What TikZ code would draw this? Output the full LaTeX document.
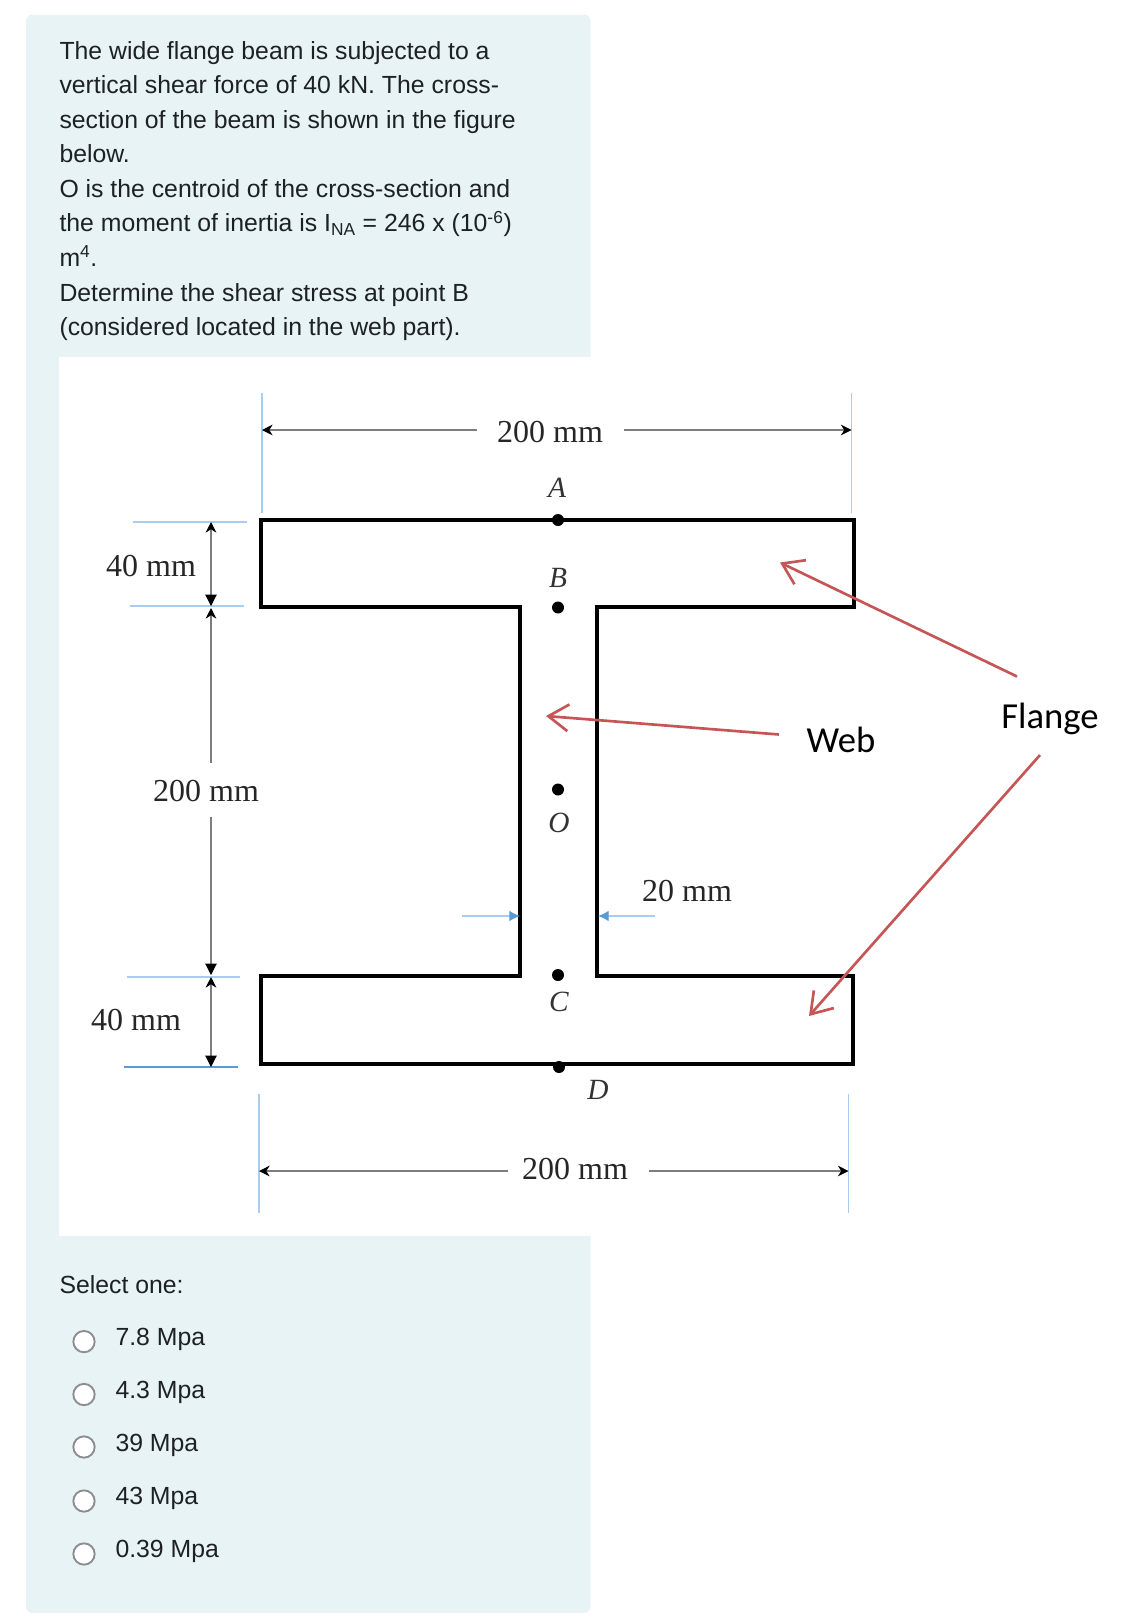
\documentclass[tikz,border=0pt]{standalone}
\usepackage{fontspec}
\usetikzlibrary{arrows.meta}
\setmainfont{Liberation Sans}
\newfontfamily\figfont{Liberation Serif}
\newfontfamily\calloutfont{Carlito}
\definecolor{panelbg}{RGB}{231,243,245}
\definecolor{bodytext}{RGB}{29,33,37}
\definecolor{ticklight}{RGB}{168,205,238}
\definecolor{tickblue}{RGB}{91,155,213}
\definecolor{calloutred}{RGB}{198,85,85}
\definecolor{dimgray}{RGB}{125,125,125}
\definecolor{radiogray}{RGB}{140,140,145}
\tikzset{every picture/.style={line width=0.75pt}}
\tikzset{
  notchtip/.tip={Stealth[length=8pt,width=8pt,black]},
  solidtip/.tip={Triangle[length=8.5pt,width=8.5pt,black]},
  bodyline/.style={anchor=base west,inner sep=0pt,text=bodytext,font=\fontsize{18.6}{22}\selectfont},
  radiobtn/.style={circle,draw=radiogray,fill=white,line width=1.4pt,minimum size=16pt,inner sep=0pt},
  beamline/.style={line width=2.3pt,line join=miter},
  dimlabel/.style={text=black!85,inner sep=0pt,font=\figfont\fontsize{24}{28}\selectfont},
  ptlabel/.style={text=black!80,inner sep=0pt,font=\figfont\itshape\fontsize{22}{26}\selectfont},
  ptdot/.style={circle,fill=black,minimum size=9pt,inner sep=0pt},
  dimline/.style={draw=dimgray,line width=0.8pt},
  webdim/.style={draw=ticklight,line width=0.9pt,-{Latex[length=8pt,width=8pt,tickblue]}},
  tick/.style={draw=ticklight,line width=0.8pt},
  callout/.style={draw=calloutred,line width=2pt,-{Straight Barb[length=15pt,width=20pt,line width=2pt]}},
  calloutlabel/.style={text=black,inner sep=0pt,font=\calloutfont\fontsize{27.5}{32}\selectfont}
}
\begin{document}
\begin{tikzpicture}[x=0.75pt,y=0.75pt,yscale=-1,xscale=1]
	\useasboundingbox (0,0) rectangle (1125,1624);

	% Panels
	\fill [panelbg, rounded corners=5pt]  (26,14.5) rectangle (590.5,1613);
	\fill [white]  (59,357) rectangle (590.5,1236);

	% Question text
	\node [bodyline] (line1) at (59,59) {The wide flange beam is subjected to a};
	\node [bodyline] (line2) at (59,93.5) {vertical shear force of 40 kN. The cross-};
	\node [bodyline] (line3) at (59,128) {section of the beam is shown in the figure};
	\node [bodyline] (line4) at (59,162.6) {below.};
	\node [bodyline] (line5) at (59,197) {O is the centroid of the cross-section and};
	\node [bodyline] (line6) at (59,231.7) {the moment of inertia is I\textsubscript{NA} = 246 x (10\textsuperscript{-6})};
	\node [bodyline] (line7) at (59,266.3) {m\textsuperscript{4}.};
	\node [bodyline] (line8) at (59,301) {Determine the shear stress at point B};
	\node [bodyline] (line9) at (59,335.5) {(considered located in the web part).};

	% Beam outline
	\draw [beamline] (261,520) -- (854,520) -- (854,607) -- (597,607) -- (597,976) -- (853,976) -- (853,1064) -- (261,1064) -- (261,976) -- (520,976) -- (520,607) -- (261,607) -- cycle;

	% Points
	\node [ptdot] (dotA) at (558,520) {};
	\node [ptdot] (dotB) at (558,607.5) {};
	\node [ptdot] (dotO) at (558,789.5) {};
	\node [ptdot] (dotC) at (558,975) {};
	\node [ptdot] (dotD) at (559,1067) {};
	\node [ptlabel] (labelA) at (557,488) {A};
	\node [ptlabel] (labelB) at (558,578) {B};
	\node [ptlabel] (labelO) at (559,823) {O};
	\node [ptlabel] (labelC) at (559,1002) {C};
	\node [ptlabel] (labelD) at (598,1090) {D};

	% Dimension end points
	\coordinate (topL) at (262,430);
	\coordinate (topgapL) at (476.5,430);
	\coordinate (topgapR) at (624,430);
	\coordinate (topR) at (851.5,430);
	\coordinate (botL) at (259,1171);
	\coordinate (botgapL) at (507.5,1171);
	\coordinate (botgapR) at (648.5,1171);
	\coordinate (botR) at (848.5,1171);
	\coordinate (flangeA) at (211,522);
	\coordinate (flangeB) at (211,606);
	\coordinate (flangeBlow) at (211,608);
	\coordinate (webgapT) at (211,762.5);
	\coordinate (webgapB) at (211,816.5);
	\coordinate (flangeC) at (211,977);
	\coordinate (flangeChigh) at (211,975);
	\coordinate (flangeD) at (211,1067);
	\coordinate (webL) at (520,916);
	\coordinate (webLfar) at (462,916);
	\coordinate (webR) at (598,916);
	\coordinate (webRfar) at (655,916);

	% Extension ticks
	\draw [tick] (262,393) -- (262,513);
	\draw [tick] (851.5,393) -- (851.5,513);
	\draw [tick] (259,1094) -- (259,1213);
	\draw [tick] (848.5,1094) -- (848.5,1213);
	\draw [tick] (133,522) -- (247,522);
	\draw [tick] (130,606) -- (243.5,606);
	\draw [tick] (127,977) -- (240,977);
	\draw [tick, draw=tickblue] (124,1067) -- (238,1067);

	% Dimension labels
	\node [dimlabel] (dimtop) at (550,432) {200 mm};
	\node [dimlabel] (dimbot) at (575,1169.5) {200 mm};
	\node [dimlabel] (dimweb) at (206,791.5) {200 mm};
	\node [dimlabel] (dimflangetop) at (151,566) {40 mm};
	\node [dimlabel] (dimflangebot) at (136,1020.5) {40 mm};
	\node [dimlabel] (dimthick) at (687,891) {20 mm};

	% Dimension lines
	\draw [dimline, -notchtip] (topgapL) -- (topL);
	\draw [dimline, -notchtip] (topgapR) -- (topR);
	\draw [dimline, -notchtip] (botgapL) -- (botL);
	\draw [dimline, -notchtip] (botgapR) -- (botR);
	\draw [dimline, notchtip-solidtip] (flangeA) -- (flangeB);
	\draw [dimline, -notchtip] (webgapT) -- (flangeBlow);
	\draw [dimline, -solidtip] (webgapB) -- (flangeChigh);
	\draw [dimline, notchtip-solidtip] (flangeC) -- (flangeD);
	\draw [webdim] (webLfar) -- (webL);
	\draw [webdim] (webRfar) -- (webR);

	% Callouts
	\node [calloutlabel] (web) at (841,740) {Web};
	\node [calloutlabel] (flange) at (1050,719) {Flange};
	\coordinate (flangeup) at (1017,676.5);
	\coordinate (flangeuptip) at (780,562.5);
	\coordinate (webstart) at (779,734.5);
	\coordinate (webtip) at (546,716);
	\coordinate (flangedown) at (1040,755);
	\coordinate (flangedowntip) at (809,1016);
	\draw [callout] (flangeup) -- (flangeuptip);
	\draw [callout] (webstart) -- (webtip);
	\draw [callout] (flangedown) -- (flangedowntip);

	% Answers
	\node [bodyline] (select) at (59,1293) {Select one:};
	\node [radiobtn] (radioa) at (84,1341.6) {};
	\node [radiobtn] (radiob) at (84,1394.5) {};
	\node [radiobtn] (radioc) at (84,1447) {};
	\node [radiobtn] (radiod) at (84,1501) {};
	\node [radiobtn] (radioe) at (84,1554) {};
	\node [bodyline] (opta) at (115,1345) {7.8 Mpa};
	\node [bodyline] (optb) at (115,1398) {4.3 Mpa};
	\node [bodyline] (optc) at (115,1451) {39 Mpa};
	\node [bodyline] (optd) at (115,1504) {43 Mpa};
	\node [bodyline] (opte) at (115,1557) {0.39 Mpa};

\end{tikzpicture}
\end{document}
